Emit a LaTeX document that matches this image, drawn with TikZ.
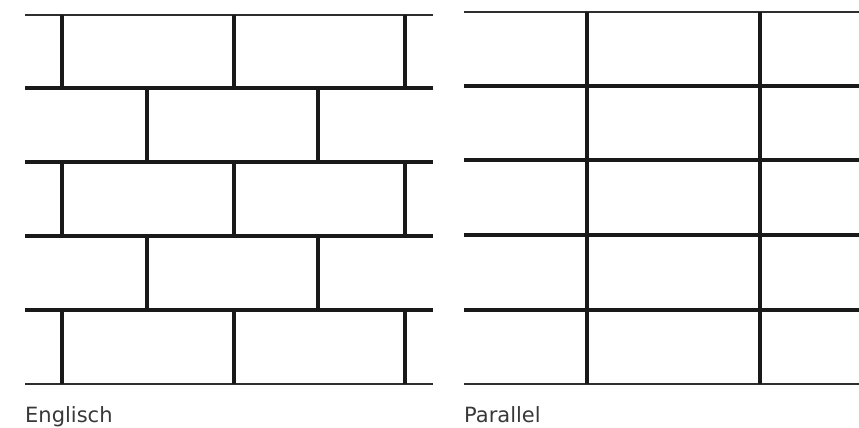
\documentclass[tikz,border=0pt]{standalone}
\usepackage{fontspec}
\setmainfont{DejaVu Sans}
\begin{document}
\begin{tikzpicture}[x=1pt,y=-1pt,
  joint/.style={line width=3.6pt,color=black!90},
  edge/.style={line width=2.8pt,color=black!82},
  caption/.style={anchor=base west,inner sep=0pt,font=\fontsize{21}{24}\selectfont,text=black!78}]
\useasboundingbox (0,0) rectangle (859,428);
% Englisch
\draw[edge] (25,15) -- (433,15);
\foreach \y in {88,162,236,310} \draw[joint] (25,\y) -- (433,\y);
\draw[edge] (25,384) -- (433,384);
\foreach \a/\b in {15/88,162/236,310/384}
  \foreach \x in {62,234,405} \draw[joint] (\x,\a) -- (\x,\b);
\foreach \a/\b in {88/162,236/310}
  \foreach \x in {147,318} \draw[joint] (\x,\a) -- (\x,\b);
% Parallel
\draw[edge] (464,12) -- (859,12);
\foreach \y in {86,160,235,310} \draw[joint] (464,\y) -- (859,\y);
\draw[edge] (464,384) -- (859,384);
\foreach \x in {587,760} \draw[joint] (\x,12) -- (\x,384);
\node[caption] (englisch) at (25,422) {Englisch};
\node[caption] (parallel) at (464,422) {Parallel};
\end{tikzpicture}
\end{document}
